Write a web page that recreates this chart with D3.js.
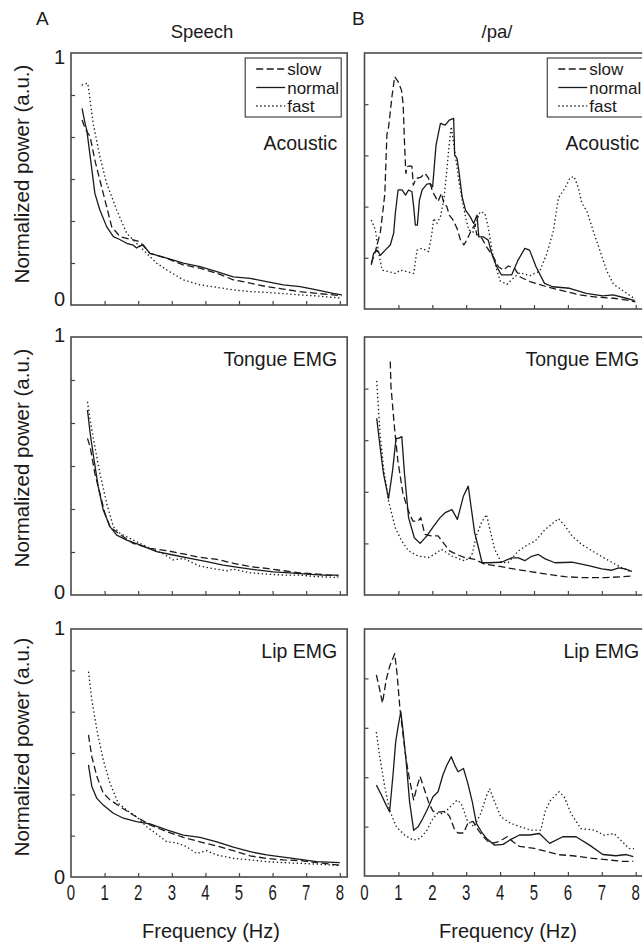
<!DOCTYPE html>
<html>
<head>
<meta charset="utf-8">
<script src="https://cdn.jsdelivr.net/npm/d3@7"></script>
<style>
  html, body { margin: 0; padding: 0; background: #fff; }
  svg { display: block; }
  text { font-family: "Liberation Sans", Arial, Helvetica, sans-serif; fill: #1a1a1a; }
</style>
</head>
<body>
<div id="chart"></div>
<script>
// ---------------- DATA (frequency in Hz, normalized power in a.u.) ----------------
const columnTitles = ["Speech", "/pa/"];
const columnLetters = ["A", "B"];
const rowLabels = ["Acoustic", "Tongue EMG", "Lip EMG"];
const seriesNames = ["slow", "normal", "fast"];
const xTickValues = [0, 1, 2, 3, 4, 5, 6, 7, 8];
const yAxisTitle = "Normalized power (a.u.)";
const xAxisTitle = "Frequency (Hz)";

// Column A: Speech
const speechAcousticSlow = [[0.33,0.734],[0.42,0.70],[0.57,0.668],[0.71,0.575],[0.91,0.469],[1.11,0.364],[1.21,0.311],[1.46,0.271],[1.85,0.258],[2.05,0.251],[2.35,0.205],[2.85,0.185],[3.34,0.159],[3.84,0.146],[4.34,0.126],[4.83,0.10],[5.33,0.087],[5.82,0.073],[6.32,0.063],[6.82,0.053],[7.31,0.046],[7.8,0.04],[8.06,0.037]];
const speechAcousticNormal = [[0.33,0.78],[0.42,0.72],[0.47,0.694],[0.61,0.549],[0.71,0.443],[0.86,0.377],[1.06,0.311],[1.26,0.271],[1.45,0.26],[1.66,0.245],[1.85,0.238],[1.95,0.226],[2.05,0.235],[2.15,0.238],[2.35,0.205],[2.85,0.186],[3.34,0.166],[3.84,0.152],[4.34,0.132],[4.83,0.112],[5.33,0.106],[5.82,0.093],[6.32,0.08],[6.82,0.073],[7.31,0.06],[7.8,0.046],[8.06,0.04]];
const speechAcousticFast = [[0.32,0.873],[0.5,0.88],[0.66,0.72],[0.86,0.589],[1.06,0.483],[1.36,0.377],[1.66,0.284],[1.95,0.245],[2.35,0.192],[2.55,0.166],[2.85,0.139],[3.34,0.10],[3.84,0.08],[4.34,0.07],[4.83,0.06],[5.33,0.053],[5.82,0.05],[6.32,0.045],[6.82,0.04],[7.31,0.036],[8.06,0.027]];

const speechTongueSlow = [[0.49,0.607],[0.57,0.574],[0.71,0.471],[0.86,0.394],[1.01,0.316],[1.16,0.265],[1.41,0.239],[1.85,0.2],[2.35,0.181],[2.85,0.172],[3.35,0.159],[3.84,0.146],[4.34,0.138],[4.84,0.123],[5.33,0.11],[5.83,0.103],[6.33,0.094],[6.82,0.086],[7.32,0.081],[7.96,0.074]];
const speechTongueNormal = [[0.49,0.717],[0.57,0.627],[0.67,0.537],[0.81,0.42],[0.96,0.329],[1.16,0.265],[1.36,0.232],[1.66,0.213],[2.05,0.194],[2.55,0.168],[3.04,0.155],[3.54,0.142],[4.04,0.129],[4.53,0.116],[5.03,0.106],[5.52,0.097],[6.02,0.09],[6.52,0.086],[7.01,0.081],[7.51,0.077],[7.96,0.077]];
const speechTongueFast = [[0.49,0.749],[0.57,0.678],[0.71,0.575],[0.86,0.472],[1.06,0.356],[1.26,0.265],[1.46,0.239],[1.85,0.213],[2.35,0.181],[2.75,0.159],[3.04,0.136],[3.35,0.142],[3.64,0.123],[3.84,0.112],[4.34,0.1],[4.64,0.094],[4.84,0.1],[5.33,0.086],[5.83,0.081],[6.33,0.077],[6.82,0.077],[7.32,0.071],[7.96,0.068]];

const speechLipSlow = [[0.52,0.573],[0.62,0.485],[0.77,0.405],[0.96,0.338],[1.16,0.311],[1.46,0.284],[1.85,0.25],[2.35,0.21],[2.85,0.183],[3.34,0.16],[3.84,0.142],[4.34,0.125],[4.83,0.106],[5.33,0.085],[5.82,0.075],[6.32,0.069],[6.82,0.066],[7.31,0.058],[8.0,0.048]];
const speechLipNormal = [[0.52,0.452],[0.62,0.365],[0.77,0.317],[0.96,0.29],[1.26,0.257],[1.56,0.237],[1.95,0.223],[2.35,0.214],[2.85,0.19],[3.34,0.169],[3.84,0.16],[4.34,0.142],[4.83,0.12],[5.33,0.102],[5.82,0.089],[6.32,0.08],[6.82,0.071],[7.31,0.062],[8.0,0.058]];
const speechLipFast = [[0.52,0.828],[0.62,0.714],[0.77,0.593],[0.96,0.472],[1.16,0.378],[1.41,0.297],[1.66,0.27],[1.95,0.243],[2.25,0.203],[2.65,0.163],[2.85,0.142],[3.14,0.138],[3.44,0.122],[3.74,0.095],[4.04,0.106],[4.34,0.089],[4.83,0.075],[5.33,0.069],[5.82,0.062],[6.32,0.058],[6.82,0.055],[7.31,0.052],[8.0,0.046]];

// Column B: /pa/
const paAcousticSlow = [[0.20,0.178],[0.32,0.224],[0.47,0.302],[0.54,0.38],[0.60,0.45],[0.66,0.68],[0.71,0.71],[0.81,0.83],[0.89,0.907],[0.99,0.888],[1.09,0.855],[1.14,0.80],[1.18,0.65],[1.22,0.53],[1.26,0.556],[1.35,0.559],[1.40,0.556],[1.44,0.484],[1.52,0.51],[1.65,0.514],[1.79,0.53],[1.89,0.51],[2.01,0.458],[2.17,0.42],[2.27,0.452],[2.34,0.413],[2.43,0.40],[2.50,0.367],[2.6,0.35],[2.73,0.315],[2.83,0.27],[2.93,0.25],[3.02,0.27],[3.16,0.31],[3.26,0.33],[3.31,0.29],[3.41,0.289],[3.6,0.243],[3.8,0.204],[3.95,0.165],[4.1,0.152],[4.24,0.168],[4.43,0.159],[4.58,0.126],[4.88,0.107],[5.37,0.087],[5.77,0.074],[6.36,0.055],[6.85,0.046],[7.35,0.042],[7.74,0.035],[7.99,0.028]];
const paAcousticNormal = [[0.20,0.172],[0.27,0.218],[0.37,0.23],[0.47,0.21],[0.61,0.23],[0.76,0.25],[0.86,0.296],[0.91,0.374],[0.99,0.465],[1.11,0.465],[1.21,0.445],[1.30,0.465],[1.40,0.458],[1.45,0.40],[1.50,0.328],[1.56,0.328],[1.62,0.425],[1.70,0.465],[1.84,0.488],[1.94,0.49],[2.01,0.477],[2.11,0.64],[2.24,0.725],[2.38,0.718],[2.50,0.738],[2.63,0.745],[2.66,0.601],[2.73,0.588],[2.78,0.543],[2.88,0.438],[2.98,0.386],[3.12,0.36],[3.22,0.334],[3.32,0.367],[3.37,0.282],[3.5,0.282],[3.65,0.269],[3.75,0.217],[3.9,0.165],[4.04,0.133],[4.34,0.133],[4.53,0.191],[4.73,0.237],[4.87,0.23],[5.06,0.165],[5.31,0.10],[5.55,0.087],[6.05,0.081],[6.54,0.061],[7.03,0.051],[7.33,0.055],[7.72,0.042],[7.97,0.033]];
const paAcousticFast = [[0.2,0.348],[0.32,0.309],[0.42,0.218],[0.52,0.152],[0.71,0.146],[0.91,0.139],[1.06,0.152],[1.25,0.146],[1.45,0.139],[1.55,0.23],[1.7,0.237],[1.89,0.224],[1.99,0.296],[2.04,0.354],[2.14,0.335],[2.24,0.361],[2.34,0.426],[2.43,0.543],[2.5,0.647],[2.56,0.712],[2.63,0.647],[2.78,0.504],[2.88,0.426],[2.98,0.361],[3.07,0.309],[3.2,0.30],[3.3,0.34],[3.41,0.38],[3.55,0.374],[3.65,0.32],[3.8,0.2],[4.0,0.11],[4.2,0.096],[4.4,0.122],[4.58,0.142],[4.88,0.13],[5.17,0.148],[5.37,0.213],[5.57,0.304],[5.72,0.434],[5.92,0.473],[6.06,0.512],[6.18,0.518],[6.31,0.473],[6.41,0.414],[6.56,0.382],[6.75,0.304],[6.95,0.226],[7.15,0.148],[7.35,0.096],[7.64,0.07],[7.99,0.038]];

const paTongueSlow = [[0.76,0.905],[0.78,0.81],[0.88,0.655],[0.98,0.525],[1.13,0.396],[1.28,0.331],[1.43,0.286],[1.58,0.286],[1.66,0.3],[1.78,0.235],[1.97,0.229],[2.17,0.229],[2.32,0.203],[2.51,0.171],[2.71,0.158],[2.96,0.145],[3.25,0.138],[3.55,0.119],[3.94,0.112],[4.44,0.1],[4.93,0.09],[5.42,0.08],[5.92,0.071],[6.51,0.067],[7.1,0.067],[7.6,0.071],[7.9,0.074]];
const paTongueNormal = [[0.36,0.685],[0.46,0.574],[0.56,0.47],[0.71,0.374],[0.83,0.484],[0.93,0.607],[1.0,0.607],[1.1,0.614],[1.18,0.47],[1.3,0.3],[1.47,0.222],[1.64,0.2],[1.84,0.229],[2.04,0.267],[2.23,0.3],[2.38,0.319],[2.58,0.331],[2.74,0.293],[2.92,0.384],[3.06,0.422],[3.25,0.241],[3.35,0.19],[3.47,0.125],[3.65,0.125],[4.04,0.127],[4.34,0.144],[4.54,0.144],[4.73,0.133],[4.93,0.15],[5.13,0.157],[5.33,0.14],[5.62,0.125],[6.12,0.127],[6.61,0.114],[7.0,0.101],[7.3,0.096],[7.5,0.105],[7.69,0.101],[7.89,0.092]];
const paTongueFast = [[0.36,0.83],[0.46,0.623],[0.56,0.494],[0.71,0.364],[0.91,0.26],[1.1,0.209],[1.3,0.171],[1.58,0.151],[1.88,0.145],[2.07,0.158],[2.27,0.177],[2.58,0.151],[2.96,0.132],[3.16,0.151],[3.3,0.229],[3.45,0.28],[3.6,0.312],[3.7,0.254],[3.84,0.177],[4.04,0.126],[4.24,0.126],[4.54,0.171],[4.83,0.196],[5.03,0.209],[5.33,0.254],[5.57,0.28],[5.72,0.296],[5.92,0.267],[6.12,0.229],[6.41,0.196],[6.71,0.171],[7.1,0.141],[7.5,0.112],[7.79,0.093],[7.89,0.088]];

const paLipSlow = [[0.35,0.814],[0.43,0.767],[0.53,0.70],[0.64,0.794],[0.74,0.848],[0.89,0.90],[0.96,0.82],[1.04,0.686],[1.13,0.578],[1.23,0.47],[1.33,0.389],[1.45,0.308],[1.55,0.362],[1.64,0.403],[1.77,0.349],[1.9,0.295],[2.02,0.262],[2.21,0.259],[2.39,0.262],[2.51,0.241],[2.66,0.187],[2.76,0.174],[2.92,0.174],[3.05,0.214],[3.2,0.221],[3.35,0.187],[3.5,0.16],[3.64,0.14],[3.79,0.133],[3.98,0.14],[4.22,0.16],[4.37,0.14],[4.57,0.12],[4.96,0.113],[5.36,0.10],[5.75,0.086],[6.14,0.082],[6.64,0.073],[7.13,0.066],[7.62,0.059],[7.93,0.059]];
const paLipNormal = [[0.35,0.368],[0.5,0.328],[0.64,0.287],[0.74,0.26],[0.84,0.408],[0.92,0.543],[0.99,0.604],[1.07,0.665],[1.13,0.597],[1.23,0.462],[1.33,0.3],[1.45,0.185],[1.58,0.199],[1.72,0.233],[1.87,0.274],[2.02,0.321],[2.17,0.341],[2.31,0.408],[2.43,0.449],[2.56,0.483],[2.66,0.449],[2.76,0.422],[2.92,0.435],[3.05,0.374],[3.18,0.3],[3.3,0.213],[3.45,0.179],[3.6,0.152],[3.84,0.125],[4.09,0.128],[4.28,0.145],[4.57,0.166],[4.87,0.166],[5.16,0.172],[5.46,0.132],[5.85,0.159],[6.24,0.159],[6.64,0.125],[7.03,0.087],[7.42,0.082],[7.72,0.087],[7.93,0.078]];
const paLipFast = [[0.35,0.583],[0.45,0.482],[0.6,0.36],[0.74,0.266],[0.94,0.199],[1.19,0.165],[1.44,0.145],[1.64,0.152],[1.84,0.185],[1.99,0.226],[2.14,0.253],[2.34,0.253],[2.53,0.28],[2.73,0.307],[2.85,0.294],[3.03,0.226],[3.23,0.199],[3.43,0.253],[3.59,0.321],[3.69,0.354],[3.82,0.307],[4.02,0.24],[4.31,0.213],[4.61,0.199],[4.9,0.186],[5.2,0.186],[5.34,0.267],[5.49,0.307],[5.74,0.341],[5.89,0.321],[6.09,0.253],[6.38,0.192],[6.77,0.186],[7.07,0.165],[7.36,0.172],[7.56,0.145],[7.81,0.111],[7.95,0.111]];

const panelSeries = [
  [[speechAcousticSlow, speechAcousticNormal, speechAcousticFast], [paAcousticSlow, paAcousticNormal, paAcousticFast]],
  [[speechTongueSlow, speechTongueNormal, speechTongueFast], [paTongueSlow, paTongueNormal, paTongueFast]],
  [[speechLipSlow, speechLipNormal, speechLipFast], [paLipSlow, paLipNormal, paLipFast]]
];

// ---------------- LAYOUT / STYLE ----------------
const W = 642, H = 946;
const cols = [
  { x0: 71, unit: 33.6, xMax: 8.22, yTickStep: 1 / 6, titleX: 202, letterX: 36, labelY0: true },
  { x0: 364.5, unit: 33.9, xMax: 8.4, yTickStep: 0.2, titleX: 497, letterX: 352, labelY0: false }
];
const rows = [
  [{ top: 53, bottom: 305 }, { top: 53, bottom: 309 }],
  [{ top: 337, bottom: 595 }, { top: 337, bottom: 595 }],
  [{ top: 629, bottom: 877 }, { top: 629, bottom: 876 }]
];
const rowLabelOffset = [97, 29, 29];
const yTitleCenter = [174, 458, 747];
const label1Offset = [4, -2, -1];   // centre of "1" relative to panel top
const label0Offset = [-6, -3, 0];   // centre of "0" relative to panel bottom
const dashStyles = ["7,3.5", null, "1.4,2.6"];
const ink = "#1a1a1a";

const svg = d3.select("#chart").append("svg")
  .attr("width", W).attr("height", H).attr("viewBox", `0 0 ${W} ${H}`);

// column letters and titles
cols.forEach((c, ci) => {
  svg.append("text").attr("x", c.letterX).attr("y", 25)
    .attr("font-size", 19).text(columnLetters[ci]);
  svg.append("text").attr("x", c.titleX).attr("y", 38)
    .attr("text-anchor", "middle").attr("font-size", 18.5).text(columnTitles[ci]);
});

rows.forEach((rowG, ri) => {
  cols.forEach((c, ci) => {
    const g = rowG[ci];
    const x = d3.scaleLinear().domain([0, c.xMax]).range([c.x0, c.x0 + c.unit * c.xMax]);
    const y = d3.scaleLinear().domain([0, 1]).range([g.bottom, g.top]);
    const panel = svg.append("g");

    // x ticks (inward)
    const xAx = d3.axisBottom(x).tickValues(xTickValues.filter(v => v > 0)).tickSize(-4).tickFormat("");
    const gx = panel.append("g").attr("transform", `translate(0,${g.bottom})`).call(xAx);
    gx.select(".domain").remove();
    gx.selectAll("line").attr("stroke", "#444").attr("stroke-width", 1.2);

    // y ticks (inward)
    const yVals = d3.range(1, Math.round(1 / c.yTickStep)).map(k => k * c.yTickStep);
    const yAx = d3.axisLeft(y).tickValues(yVals).tickSize(-4).tickFormat("");
    const gy = panel.append("g").attr("transform", `translate(${c.x0},0)`).call(yAx);
    gy.select(".domain").remove();
    gy.selectAll("line").attr("stroke", "#444").attr("stroke-width", 1.2);

    // series
    const line = d3.line().x(d => x(d[0])).y(d => y(d[1]));
    panelSeries[ri][ci].forEach((data, si) => {
      const p = panel.append("path").datum(data)
        .attr("d", line).attr("fill", "none")
        .attr("stroke", ink).attr("stroke-width", 1.3)
        .attr("stroke-linejoin", "round");
      if (dashStyles[si]) p.attr("stroke-dasharray", dashStyles[si]);
    });

    // frame
    panel.append("rect")
      .attr("x", x(0)).attr("y", g.top)
      .attr("width", x(c.xMax) - x(0)).attr("height", g.bottom - g.top)
      .attr("fill", "none").attr("stroke", "#4a4a4a").attr("stroke-width", 1.6);

    // row label
    panel.append("text")
      .attr("x", x(c.xMax) - 10).attr("y", g.top + rowLabelOffset[ri])
      .attr("text-anchor", "end").attr("font-size", 19.5).text(rowLabels[ri]);

    // y labels 0 / 1 (left column only)
    if (c.labelY0) {
      panel.append("text").attr("x", c.x0 - 6).attr("y", y(1) + label1Offset[ri])
        .attr("text-anchor", "end").attr("dominant-baseline", "central")
        .attr("font-size", 20).text("1");
      panel.append("text").attr("x", c.x0 - 6).attr("y", y(0) + label0Offset[ri])
        .attr("text-anchor", "end").attr("dominant-baseline", "central")
        .attr("font-size", 20).text("0");
      svg.append("text")
        .attr("transform", `translate(29,${yTitleCenter[ri]}) rotate(-90)`)
        .attr("text-anchor", "middle").attr("font-size", 20.5).text(yAxisTitle);
    }

    // legend (top row)
    if (ri === 0) {
      const bx = x(c.xMax) - 102, by = g.top + 5;
      const lg = panel.append("g");
      lg.append("rect").attr("x", bx).attr("y", by).attr("width", 96).attr("height", 59)
        .attr("fill", "#fff").attr("stroke", "#333").attr("stroke-width", 1.1);
      seriesNames.forEach((name, si) => {
        const base = by + 17 + si * 18.5;
        const l = lg.append("line").attr("x1", bx + 11).attr("x2", bx + 40)
          .attr("y1", base - 6).attr("y2", base - 6)
          .attr("stroke", ink).attr("stroke-width", 1.3);
        if (dashStyles[si]) l.attr("stroke-dasharray", dashStyles[si]);
        lg.append("text").attr("x", bx + 42).attr("y", base)
          .attr("font-size", 17).text(name);
      });
    }

    // x tick labels and title (bottom row)
    if (ri === rows.length - 1) {
      xTickValues.forEach(v => {
        panel.append("text")
          .attr("transform", `translate(${x(v)},900) scale(0.68,1)`)
          .attr("text-anchor", "middle").attr("font-size", 22).text(v);
      });
      panel.append("text").attr("x", ci === 0 ? 211 : 508).attr("y", 938)
        .attr("text-anchor", "middle").attr("font-size", 20).text(xAxisTitle);
    }
  });
});
</script>
</body>
</html>
